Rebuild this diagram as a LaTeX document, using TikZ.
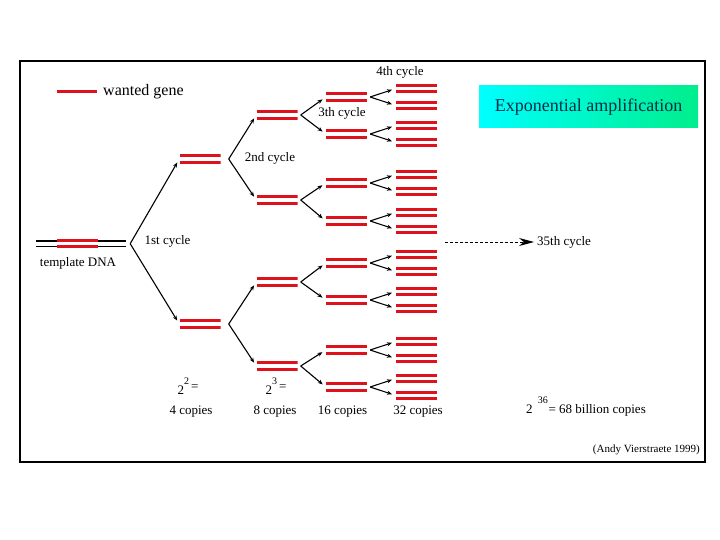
\documentclass[tikz,border=0pt]{standalone}
\usepackage{fontspec}
\setmainfont{Liberation Serif}
\usepackage{xcolor}
\usepackage{tikz}
\usetikzlibrary{arrows.meta}

\definecolor{genered}{RGB}{222,18,28}
\definecolor{titleink}{RGB}{0,45,75}
\definecolor{titlegreen}{RGB}{0,238,140}
\newcommand{\supnum}[1]{\raisebox{10pt}{\fontsize{10}{11}\selectfont #1}}

\begin{document}
\begin{tikzpicture}[
  x=1pt, y=-1pt,
  gene/.style={genered, line width=3pt},
  dna/.style={minimum width=41pt, minimum height=10pt, inner sep=0pt,
    path picture={
      \draw[gene] ([yshift=3.25pt]path picture bounding box.west) -- ([yshift=3.25pt]path picture bounding box.east);
      \draw[gene] ([yshift=-3.25pt]path picture bounding box.west) -- ([yshift=-3.25pt]path picture bounding box.east);}},
  tmpl/.style={minimum width=90pt, minimum height=10pt, inner sep=0pt,
    path picture={
      \draw[line width=2pt] ([yshift=3pt]path picture bounding box.west) -- ([yshift=3pt]path picture bounding box.east);
      \draw[line width=1.2pt] ([yshift=-3pt]path picture bounding box.west) -- ([yshift=-3pt]path picture bounding box.east);}},
  lbl/.style={font=\fontsize{13}{15}\selectfont, inner sep=0pt},
  title/.style={minimum width=219pt, minimum height=42pt, inner sep=0pt,
    left color=cyan, middle color=cyan, right color=titlegreen,
    text=titleink, font=\fontsize{18}{20}\selectfont},
  arr/.style={-{Stealth[length=5pt,width=4pt]}, line width=1.1pt, shorten >=4pt},
]
  \useasboundingbox (0,0) rectangle (720,540);
  \draw[line width=2.5pt] (20,61) rectangle (705,462);

  \draw[gene] (57,91.7) -- (97,91.7);
  \node[lbl, anchor=west, font=\fontsize{16}{18}\selectfont] (key) at (103,91.7) {wanted gene};
  \node[title] (ttl) at (588.5,107) {Exponential amplification};

  \node[tmpl] (tpl) at (81,243.7) {};
  \node[dna] (tgene) at (77.5,243.7) {};
  \node[lbl] (tlab) at (78,263) {template DNA};

  \node[dna] (one1) at (200,159) {};
  \node[dna] (one2) at (200,324) {};
  \coordinate (b0) at ([xshift=4pt]tpl.east);
  \draw[arr] (b0) -- (one1.west);
  \draw[arr] (b0) -- (one2.west);

  \foreach \y [count=\i] in {115,200,282,366} {
    \node[dna] (two\i) at (277,\y) {};
  }
  \foreach \p/\a/\b in {one1/two1/two2, one2/two3/two4} {
    \coordinate (\p b) at ([xshift=8pt]\p.east);
    \draw[arr] (\p b) -- (\a.west);
    \draw[arr] (\p b) -- (\b.west);
  }

  \foreach \y [count=\i] in {97,134,183,221,263,300,350,387} {
    \node[dna] (three\i) at (346.5,\y) {};
    \node[dna] (four\i u) at (416.5,\y-8.5) {};
    \node[dna] (four\i l) at (416.5,\y+8.5) {};
    \coordinate (three\i b) at ([xshift=3pt]three\i.east);
    \draw[arr] (three\i b) -- (four\i u.west);
    \draw[arr] (three\i b) -- (four\i l.west);
  }
  \foreach \p/\a/\b in {two1/three1/three2, two2/three3/three4,
                        two3/three5/three6, two4/three7/three8} {
    \coordinate (\p b) at ([xshift=3pt]\p.east);
    \draw[arr] (\p b) -- (\a.west);
    \draw[arr] (\p b) -- (\b.west);
  }

  \node[lbl] (c1) at (167.5,241) {1st cycle};
  \node[lbl] (c2) at (270,158) {2nd cycle};
  \node[lbl] (c3) at (342,113) {3th cycle};
  \node[lbl] (c4) at (400,72) {4th cycle};

  \coordinate (d35) at (445,242);
  \node[lbl, anchor=west] (n35) at (537,242) {35th cycle};
  \draw[line width=0.8pt, dash pattern=on 3pt off 2pt, -{Stealth[length=15pt,width=8pt]}, shorten >=3pt] (d35) -- (n35.west);

  \node[lbl] (p2) at (188,386) {2\supnum{2}\,\raisebox{4pt}{=}};
  \node[lbl] (n4) at (191,411.7) {4 copies};
  \node[lbl] (p3) at (276,386) {2\supnum{3}\,\raisebox{4pt}{=}};
  \node[lbl] (n8) at (275,411.7) {8 copies};
  \node[lbl] (n16) at (342.5,411.7) {16 copies};
  \node[lbl] (n32) at (418,411.7) {32 copies};
  \node[lbl, anchor=west] (n36) at (526,407) {2\hspace{0.4em}\supnum{36}\hspace{0.05em}= 68 billion copies};
  \node[lbl, anchor=east, font=\fontsize{11}{13}\selectfont] (cred) at (700,450) {(Andy Vierstraete 1999)};
\end{tikzpicture}
\end{document}
